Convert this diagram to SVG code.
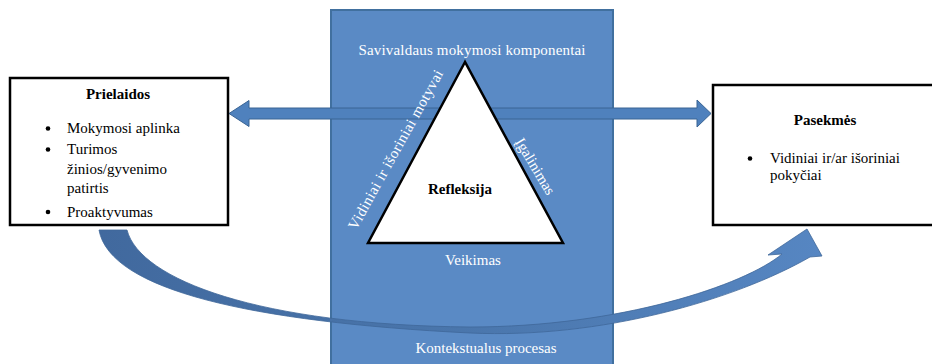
<svg xmlns="http://www.w3.org/2000/svg" width="932" height="364" viewBox="0 0 932 364">
<style>
  .t { font-family: "Liberation Serif", "Times New Roman", serif; font-size: 15px; }
  .w { fill: #ffffff; }
  .k { fill: #000000; }
  .b { font-weight: bold; }
  .box { fill: #ffffff; stroke: #000000; stroke-width: 2.5; }
  .arr { fill: #4F81BD; stroke: #3A6494; stroke-width: 1; }
</style>
<defs>
  <linearGradient id="cg" x1="0" y1="0" x2="1" y2="0">
    <stop offset="0" stop-color="#41699E"/>
    <stop offset="0.5" stop-color="#4A76AC"/>
    <stop offset="1" stop-color="#5686C2"/>
  </linearGradient>
</defs>

<g id="process">
  <rect x="331" y="10" width="282" height="362" fill="#5A8AC5" stroke="#41709F" stroke-width="2"/>
  <text class="t w" x="472" y="55" text-anchor="middle" textLength="227">Savivaldaus mokymosi komponentai</text>
  <text class="t w" x="473" y="265" text-anchor="middle">Veikimas</text>
  <text class="t w" x="486" y="353" text-anchor="middle">Kontekstualus procesas</text>
</g>

<g id="connectors">
  <path id="double-arrow" class="arr" d="M229,113.5 L249,100.5 L249,108 L697,108 L697,100 L711,113.5 L697,127 L697,119 L249,119 L249,126.5 Z"/>
  <path id="curved-arrow" fill="url(#cg)" stroke="#3F6799" stroke-width="0.8" d="M99,230 C110,290 250,322 470,333 C600,339 735,300 810,257 L822,256 L807,229 L768,255 L782,254 C745,285 620,327 470,327 C260,325 140,280 127,230 Z"/>
</g>

<g id="triangle">
  <polygon points="465,62 368,243 563,243" fill="#ffffff" stroke="#000000" stroke-width="2.5" stroke-linejoin="miter"/>
  <text class="t k b" x="460" y="194" text-anchor="middle">Refleksija</text>
  <text class="t w" x="400" y="152" text-anchor="middle" textLength="180" transform="rotate(-61 400 152)">Vidiniai ir išoriniai motyvai</text>
  <text class="t w" x="531" y="169" text-anchor="middle" transform="rotate(59 531 169)">Įgalinimas</text>
</g>

<g id="prielaidos">
  <rect class="box" x="10" y="78" width="218" height="147"/>
  <text class="t k b" x="118" y="99" text-anchor="middle">Prielaidos</text>
  <circle cx="48" cy="128.5" r="2.3"/>
  <circle cx="48" cy="149.5" r="2.3"/>
  <circle cx="48" cy="212" r="2.3"/>
  <text class="t k" x="67" y="133">Mokymosi aplinka</text>
  <text class="t k" x="67" y="154">Turimos</text>
  <text class="t k" x="67" y="174">žinios/gyvenimo</text>
  <text class="t k" x="67" y="193">patirtis</text>
  <text class="t k" x="67" y="216.5">Proaktyvumas</text>
</g>

<g id="pasekmes">
  <rect class="box" x="713" y="85" width="230" height="140"/>
  <text class="t k b" x="825" y="125" text-anchor="middle">Pasekmės</text>
  <circle cx="750" cy="158.5" r="2.3"/>
  <text class="t k" x="770" y="163">Vidiniai ir/ar išoriniai</text>
  <text class="t k" x="770" y="180">pokyčiai</text>
</g>
</svg>
